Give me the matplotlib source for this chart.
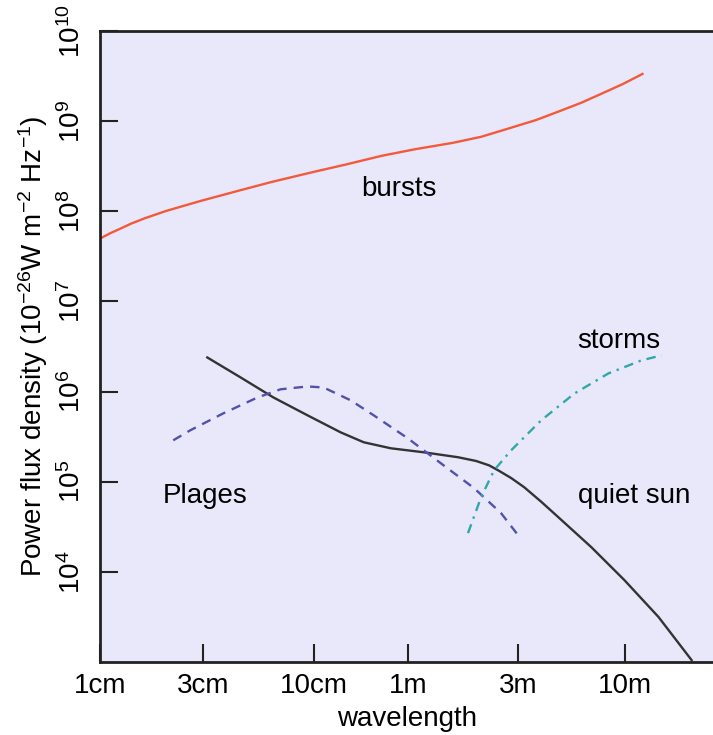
import matplotlib
matplotlib.use("Agg")
import matplotlib.pyplot as plt
from matplotlib.ticker import NullLocator

plt.rcParams['font.family'] = ['Liberation Sans', 'DejaVu Sans']
plt.rcParams['mathtext.fontset'] = 'custom'
plt.rcParams['mathtext.rm'] = 'Liberation Sans'
plt.rcParams['mathtext.it'] = 'Liberation Sans'
plt.rcParams['mathtext.default'] = 'regular'

# schematic wavelength axis (positions along the axis, labels are wavelengths)
tick_pos = [0, 1.03, 2.13, 3.07, 4.17, 5.24]
tick_labels = ["1cm", "3cm", "10cm", "1m", "3m", "10m"]

ytick_vals = [1e4, 1e5, 1e6, 1e7, 1e8, 1e9, 1e10]
ytick_labels = ["$10^{4}$", "$10^{5}$", "$10^{6}$", "$10^{7}$",
                "$10^{8}$", "$10^{9}$", "$10^{10}$"]

# bursts
burst_x = [0.0, 0.1, 0.2, 0.31, 0.45, 0.66, 1.0, 1.38, 1.7, 2.09, 2.45, 2.81,
           3.15, 3.52, 3.8, 4.06, 4.35, 4.59, 4.8, 5.02, 5.22, 5.41]
burst_y = [4.98e7, 5.7e7, 6.4e7, 7.3e7, 8.4e7, 1.01e8, 1.3e8, 1.69e8, 2.1e8,
           2.67e8, 3.3e8, 4.13e8, 4.9e8, 5.75e8, 6.7e8, 8.2e8, 1.03e9, 1.3e9,
           1.6e9, 2.06e9, 2.6e9, 3.34e9]

# quiet sun
quiet_x = [1.07, 1.40, 1.73, 2.07, 2.40, 2.63, 2.90, 3.23, 3.57, 3.75, 3.88,
           3.97, 4.1, 4.23, 4.4, 4.57, 4.90, 5.23, 5.57, 5.90]
quiet_y = [2.39e6, 1.44e6, 8.6e5, 5.45e5, 3.53e5, 2.74e5, 2.35e5, 2.12e5,
           1.87e5, 1.7e5, 1.52e5, 1.34e5, 1.1e5, 8.7e4, 6.0e4, 4.05e4,
           1.88e4, 8.1e3, 3.16e3, 1.05e3]

# plages
plage_x = [0.73, 0.90, 1.23, 1.57, 1.80, 2.07, 2.23, 2.50, 2.73, 3.07, 3.40,
           3.73, 4.00, 4.17]
plage_y = [2.88e5, 3.72e5, 5.74e5, 8.6e5, 1.06e6, 1.14e6, 1.11e6, 8.0e5,
           5.45e5, 3.03e5, 1.60e5, 8.5e4, 4.48e4, 2.55e4]

# storms
storm_x = [3.67, 3.80, 3.93, 4.10, 4.40, 4.73, 5.07, 5.40, 5.60]
storm_y = [2.69e4, 6.7e4, 1.34e5, 2.23e5, 4.8e5, 9.5e5, 1.59e6, 2.22e6, 2.52e6]

fig = plt.figure(figsize=(7.13, 7.35), dpi=100)
ax = fig.add_axes([0.1403, 0.0993, 0.862, 0.8585])
ax.set_facecolor('#e8e8fa')

ax.plot(burst_x, burst_y, color='#f45a3a', lw=1.7)
ax.plot(quiet_x, quiet_y, color='#333333', lw=1.7)
ax.plot(plage_x, plage_y, color='#5252ad', lw=1.7, dashes=(4, 3))
ax.plot(storm_x, storm_y, color='#30a8a8', lw=1.7, dashes=(4, 2.5, 1, 2.5))

ax.set_yscale('log')
ax.set_ylim(1e3, 1e10)
ax.set_xlim(0, 6.13)
ax.yaxis.set_minor_locator(NullLocator())

ax.set_xticks(tick_pos)
ax.set_xticklabels(tick_labels, fontsize=20)
ax.set_yticks(ytick_vals)
ax.set_yticklabels(ytick_labels, rotation=90, va='center', fontsize=20)
ax.tick_params(axis='both', direction='in', length=13, width=1.5, color='#222222')
ax.tick_params(axis='x', pad=8)
ax.tick_params(axis='y', pad=10)

for s in ['left', 'bottom', 'top']:
    ax.spines[s].set_linewidth(2)
    ax.spines[s].set_color('#222222')
ax.spines['right'].set_visible(False)

ax.set_xlabel("wavelength", fontsize=20, labelpad=5)
ax.set_ylabel("Power flux density (10$^{-26}$W m$^{-2}$ Hz$^{-1}$)", fontsize=20, labelpad=6)

ax.text(2.98, 1.75e8, "bursts", fontsize=20, ha='center', va='center')
ax.text(5.17, 3.6e6, "storms", fontsize=20, ha='center', va='center')
ax.text(5.33, 7.0e4, "quiet sun", fontsize=20, ha='center', va='center')
ax.text(1.05, 7.0e4, "Plages", fontsize=20, ha='center', va='center')

fig.savefig("out.png", dpi=100)
